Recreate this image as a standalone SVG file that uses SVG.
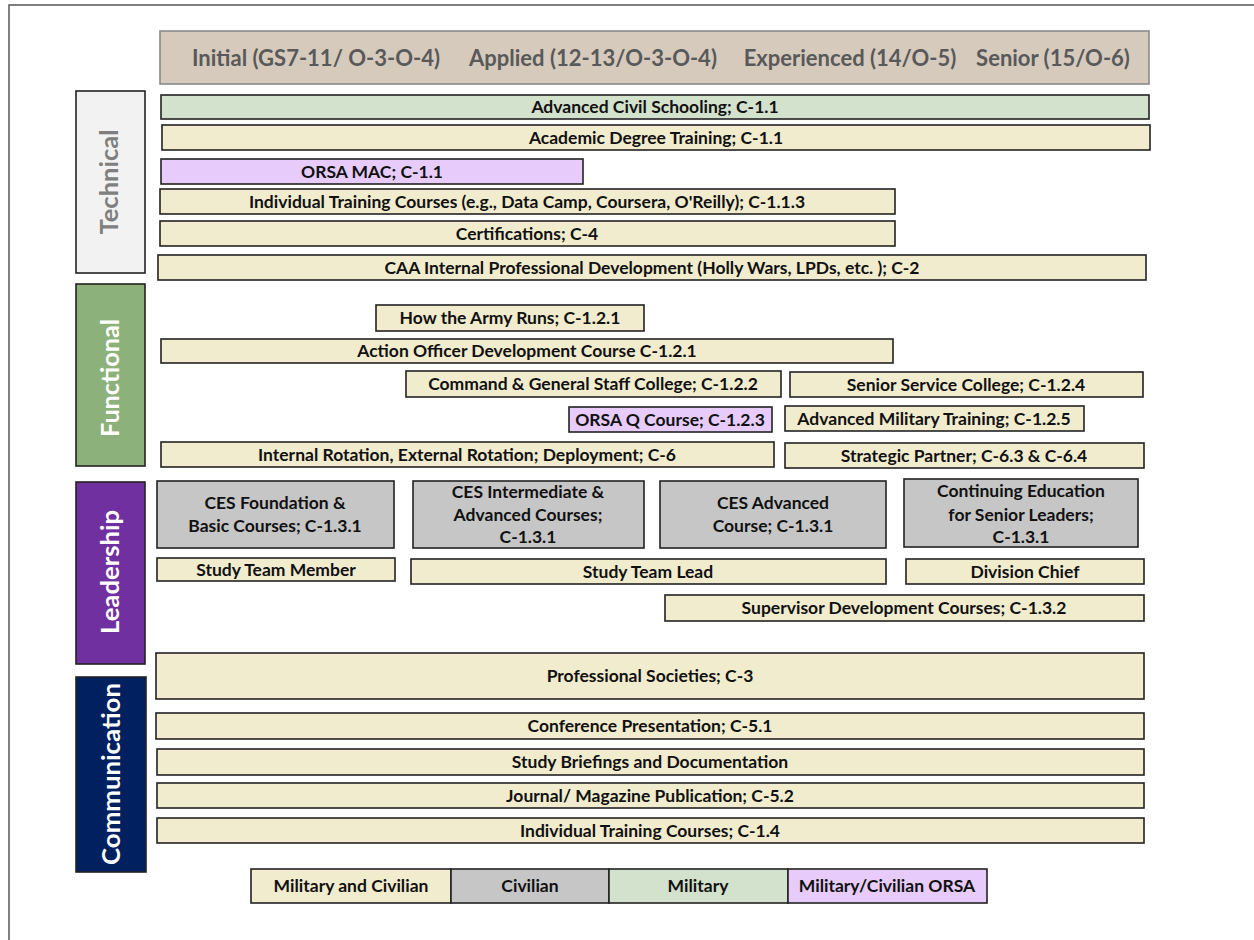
<svg xmlns="http://www.w3.org/2000/svg" width="1254" height="940" viewBox="0 0 1254 940">
<style>
text{font-family:Lato,"Liberation Sans",Arial,sans-serif;font-weight:bold;}
.bar rect{stroke:#222;stroke-width:1.6;}
.bar text{font-size:17.5px;fill:#111;text-anchor:middle;}
.mc{fill:#f2ecce;}
.civ{fill:#c6c6c6;}
.mil{fill:#d3e2cc;}
.orsa{fill:#e7ccfb;}
.gbox text{font-size:17.5px;}
.hdr{font-size:22px;fill:#595959;text-anchor:middle;}
.cat rect{stroke:#222;stroke-width:1.6;}
.cat text{text-anchor:middle;fill:#fff;}
.leg text{font-size:17.5px;}
</style>
<rect x="9" y="5" width="1300" height="1000" fill="#fff" stroke="#555" stroke-width="1.5"/>

<g id="header">
<rect x="160" y="31" width="989" height="53" fill="#d6cabd" stroke="#8a8a8a" stroke-width="1.6"/>
<text class="hdr" x="316" y="66">Initial (GS7-11/ O-3-O-4)</text>
<text class="hdr" x="593" y="66">Applied (12-13/O-3-O-4)</text>
<text class="hdr" x="850" y="66">Experienced (14/O-5)</text>
<text class="hdr" x="1053" y="66">Senior (15/O-6)</text>
</g>

<g id="cat-technical" class="cat">
<rect x="76" y="91" width="69" height="182" fill="#f2f2f2"/>
<text transform="translate(118,182) rotate(-90)" font-size="24" textLength="105" lengthAdjust="spacingAndGlyphs" style="fill:#7f7f7f">Technical</text>
</g>
<g id="cat-functional" class="cat">
<rect x="76" y="284" width="69" height="182" fill="#8db17a"/>
<text transform="translate(119,378) rotate(-90)" font-size="25" textLength="118" lengthAdjust="spacingAndGlyphs">Functional</text>
</g>
<g id="cat-leadership" class="cat">
<rect x="76" y="482" width="69" height="182" fill="#7030a0"/>
<text transform="translate(119,572) rotate(-90)" font-size="25" textLength="124" lengthAdjust="spacingAndGlyphs">Leadership</text>
</g>
<g id="cat-communication" class="cat">
<rect x="76" y="677" width="70" height="195" fill="#002060"/>
<text transform="translate(120,774) rotate(-90)" font-size="25" textLength="182" lengthAdjust="spacingAndGlyphs">Communication</text>
</g>

<g id="acs" class="bar"><rect class="mil" x="161" y="95" width="988" height="24"/><text x="655" y="113">Advanced Civil Schooling; C-1.1</text></g>
<g id="adt" class="bar"><rect class="mc" x="162" y="125" width="988" height="25"/><text x="656" y="144">Academic Degree Training; C-1.1</text></g>
<g id="orsa-mac" class="bar"><rect class="orsa" x="161" y="159" width="422" height="25"/><text x="372" y="178">ORSA MAC; C-1.1</text></g>
<g id="itc-tech" class="bar"><rect class="mc" x="160" y="189" width="735" height="25"/><text x="527" y="208">Individual Training Courses (e.g., Data Camp, Coursera, O'Reilly); C-1.1.3</text></g>
<g id="cert" class="bar"><rect class="mc" x="160" y="221" width="735" height="25"/><text x="527" y="240">Certifications; C-4</text></g>
<g id="caa" class="bar"><rect class="mc" x="158" y="255" width="988" height="25"/><text x="652" y="274">CAA Internal Professional Development (Holly Wars, LPDs, etc. ); C-2</text></g>

<g id="htar" class="bar"><rect class="mc" x="376" y="305" width="268" height="26"/><text x="510" y="324">How the Army Runs; C-1.2.1</text></g>
<g id="aodc" class="bar"><rect class="mc" x="161" y="339" width="732" height="24"/><text x="527" y="357">Action Officer Development Course C-1.2.1</text></g>
<g id="cgsc" class="bar"><rect class="mc" x="406" y="371" width="375" height="26"/><text x="593" y="390">Command &amp; General Staff College; C-1.2.2</text></g>
<g id="ssc" class="bar"><rect class="mc" x="790" y="372" width="353" height="25"/><text x="966" y="391">Senior Service College; C-1.2.4</text></g>
<g id="orsa-q" class="bar"><rect class="orsa" x="569" y="407" width="203" height="25"/><text x="670" y="426">ORSA Q Course; C-1.2.3</text></g>
<g id="amt" class="bar"><rect class="mc" x="785" y="406" width="299" height="25"/><text x="934" y="425">Advanced Military Training; C-1.2.5</text></g>
<g id="rotation" class="bar"><rect class="mc" x="161" y="442" width="613" height="25"/><text x="467" y="461">Internal Rotation, External Rotation; Deployment; C-6</text></g>
<g id="sp" class="bar"><rect class="mc" x="785" y="443" width="359" height="25"/><text x="964" y="462">Strategic Partner; C-6.3 &amp; C-6.4</text></g>

<g id="ces-f" class="bar gbox"><rect class="civ" x="157" y="481" width="237" height="67"/><text x="275" y="509">CES Foundation &amp;</text><text x="275" y="532">Basic Courses; C-1.3.1</text></g>
<g id="ces-i" class="bar gbox"><rect class="civ" x="413" y="481" width="231" height="67"/><text x="528" y="498">CES Intermediate &amp;</text><text x="528" y="521">Advanced Courses;</text><text x="528" y="543">C-1.3.1</text></g>
<g id="ces-a" class="bar gbox"><rect class="civ" x="660" y="481" width="226" height="67"/><text x="773" y="509">CES Advanced</text><text x="773" y="532">Course; C-1.3.1</text></g>
<g id="cesl" class="bar gbox"><rect class="civ" x="904" y="479" width="234" height="68"/><text x="1021" y="497">Continuing Education</text><text x="1021" y="521">for Senior Leaders;</text><text x="1021" y="543">C-1.3.1</text></g>
<g id="stm" class="bar"><rect class="mc" x="157" y="558" width="238" height="23"/><text x="276" y="576">Study Team Member</text></g>
<g id="stl" class="bar"><rect class="mc" x="411" y="559" width="475" height="25"/><text x="648" y="578">Study Team Lead</text></g>
<g id="dc" class="bar"><rect class="mc" x="906" y="559" width="238" height="25"/><text x="1025" y="578">Division Chief</text></g>
<g id="sdc" class="bar"><rect class="mc" x="665" y="595" width="479" height="26"/><text x="904" y="614">Supervisor Development Courses; C-1.3.2</text></g>

<g id="ps" class="bar"><rect class="mc" x="156" y="653" width="988" height="46"/><text x="650" y="682">Professional Societies; C-3</text></g>
<g id="cp" class="bar"><rect class="mc" x="156" y="713" width="988" height="26"/><text x="650" y="732">Conference Presentation; C-5.1</text></g>
<g id="sb" class="bar"><rect class="mc" x="157" y="749" width="987" height="26"/><text x="650" y="768">Study Briefings and Documentation</text></g>
<g id="jm" class="bar"><rect class="mc" x="157" y="783" width="987" height="25"/><text x="650" y="802">Journal/ Magazine Publication; C-5.2</text></g>
<g id="itc-comm" class="bar"><rect class="mc" x="157" y="818" width="987" height="25"/><text x="650" y="837">Individual Training Courses; C-1.4</text></g>

<g id="legend" class="bar leg">
<rect class="mc" x="251" y="869" width="200" height="34"/><text x="351" y="892">Military and Civilian</text>
<rect class="civ" x="451" y="869" width="158" height="34"/><text x="530" y="892">Civilian</text>
<rect class="mil" x="609" y="869" width="179" height="34"/><text x="698" y="892">Military</text>
<rect class="orsa" x="788" y="869" width="199" height="34"/><text x="887" y="892">Military/Civilian ORSA</text>
</g>
</svg>
